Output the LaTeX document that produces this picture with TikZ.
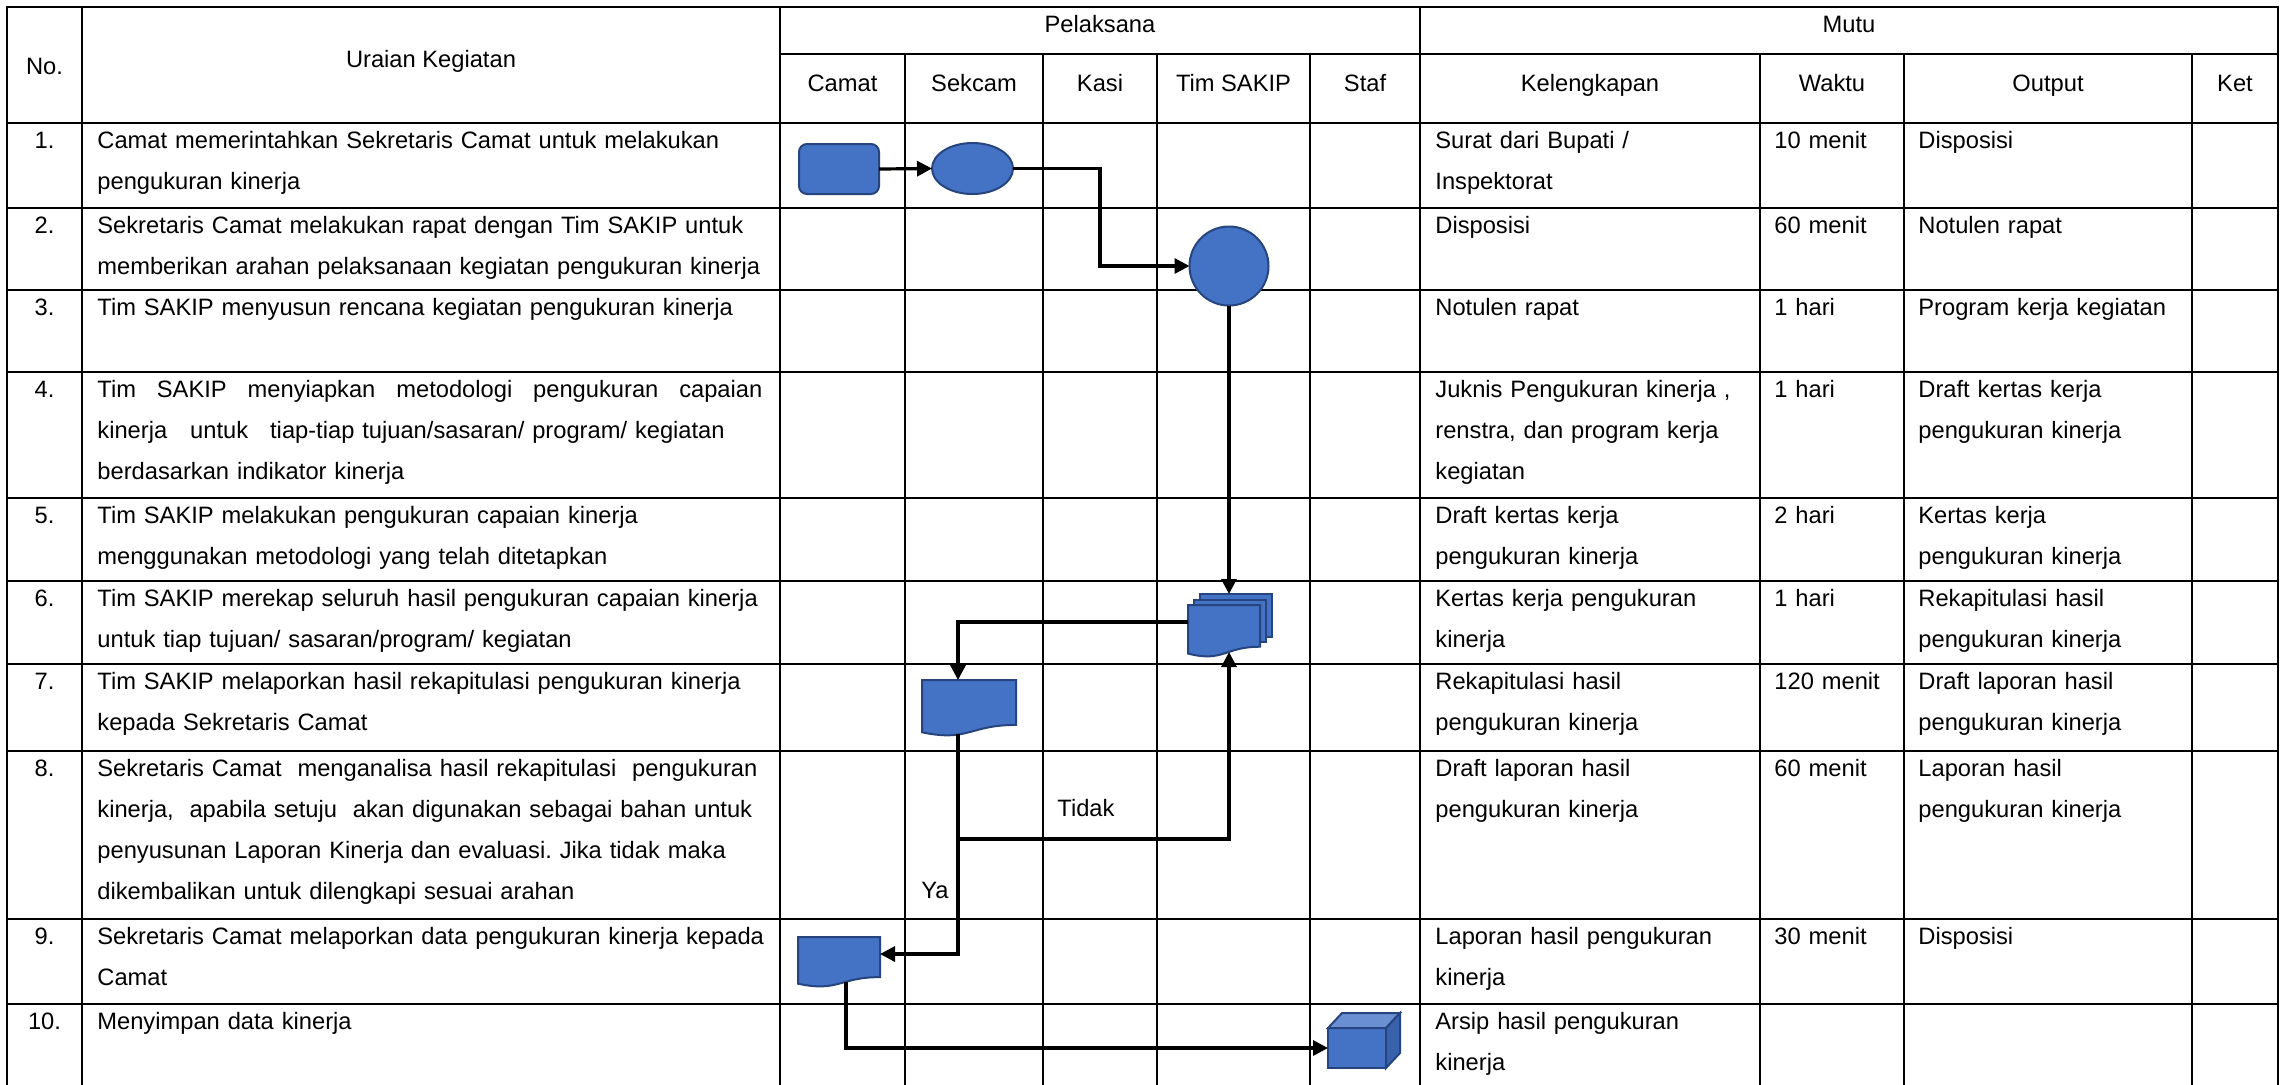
\documentclass[tikz,border=0pt]{standalone}
\usepackage{fontspec}
\setmainfont{Liberation Sans}
\usetikzlibrary{calc,arrows.meta,shapes.geometric}
\definecolor{shpfill}{HTML}{4472C4}
\definecolor{shpline}{HTML}{26457E}
\definecolor{cubetop}{HTML}{6A8FD3}
\definecolor{cubeside}{HTML}{3A62AC}
\frenchspacing
\newcommand\myfont{\fontsize{11.85pt}{20.5pt}\selectfont\frenchspacing}
\newcommand\docshape[1]{\draw[shp] (#1.north west) -- (#1.north east) -- ($(#1.north east)!0.802!(#1.south east)$) .. controls ($(#1.north)!0.802!(#1.south)$) and ($(#1.north)!1.1075!(#1.south)$) .. ($(#1.north west)!0.934!(#1.south west)$) -- cycle;}
\begin{document}
\begin{tikzpicture}[x=0.5pt,y=-0.5pt,
  gridline/.style={line width=0.9pt,line cap=rect},
  conn/.style={line width=1.6pt,-{Triangle[length=7.5pt,width=7.5pt]}},
  shp/.style={fill=shpfill,draw=shpline,line width=1pt},
  ghost/.style={inner sep=0pt,outer sep=0pt,draw=none},
  hd/.style={anchor=base,inner sep=0pt,font=\myfont},
  num/.style={anchor=base,inner sep=0pt,font=\myfont},
  cell/.style={anchor=base west,inner sep=0pt,align=left,text width=#1,font=\myfont},
  lbl/.style={anchor=base west,inner sep=0pt,font=\myfont}]
\useasboundingbox (0,0) rectangle (2295,1084);
\fill[white] (0,0) rectangle (2295,1084);
% grid
\foreach \x in {7,82,780,1420,2278} \draw[gridline] (\x,7) -- (\x,1084);
\foreach \x in {905,1043,1157,1310,1760,1904,2192} \draw[gridline] (\x,54) -- (\x,1084);
\draw[gridline] (7,7) -- (2278,7);
\draw[gridline] (780,54) -- (2278,54);
\foreach \y in {123,208,290,372,498,581,664,751,919,1004} \draw[gridline] (7,\y) -- (2278,\y);
% headers
\node[hd] (hno) at (44.5,74) {No.};
\node[hd] (hur) at (431,67) {Uraian Kegiatan};
\node[hd] (hpel) at (1100,32) {Pelaksana};
\node[hd] (hmutu) at (1849,32) {Mutu};
\node[hd] (hcam) at (842.5,91) {Camat};
\node[hd] (hsek) at (974,91) {Sekcam};
\node[hd] (hkas) at (1100,91) {Kasi};
\node[hd] (htim) at (1233.5,91) {Tim SAKIP};
\node[hd] (hsta) at (1365,91) {Staf};
\node[hd] (hkel) at (1590,91) {Kelengkapan};
\node[hd] (hwak) at (1832,91) {Waktu};
\node[hd] (hout) at (2048,91) {Output};
\node[hd] (hket) at (2235,91) {Ket};
% row 1
\node[num] (n1) at (44.5,148) {1.};
\node[cell=345pt] (u1) at (97,148) {Camat memerintahkan Sekretaris Camat untuk melakukan\\pengukuran kinerja};
\node[cell=165pt] (k1) at (1435,148) {Surat dari Bupati /\\Inspektorat};
\node[cell=70pt] (w1) at (1774,148) {10 menit};
\node[cell=140pt] (o1) at (1918,148) {Disposisi};
% row 2
\node[num] (n2) at (44.5,233) {2.};
\node[cell=345pt] (u2) at (97,233) {Sekretaris Camat melakukan rapat dengan Tim SAKIP untuk\\memberikan arahan pelaksanaan kegiatan pengukuran kinerja};
\node[cell=165pt] (k2) at (1435,233) {Disposisi};
\node[cell=70pt] (w2) at (1774,233) {60 menit};
\node[cell=140pt] (o2) at (1918,233) {Notulen rapat};
% row 3
\node[num] (n3) at (44.5,315) {3.};
\node[cell=345pt] (u3) at (97,315) {Tim SAKIP menyusun rencana kegiatan pengukuran kinerja};
\node[cell=165pt] (k3) at (1435,315) {Notulen rapat};
\node[cell=70pt] (w3) at (1774,315) {1 hari};
\node[cell=140pt] (o3) at (1918,315) {Program kerja kegiatan};
% row 4
\node[num] (n4) at (44.5,397) {4.};
\node[cell=345pt] (u4) at (97,397) {\makebox[332.5pt][l]{Tim\hfill SAKIP\hfill menyiapkan\hfill metodologi\hfill pengukuran\hfill capaian}\\kinerja\hspace{11.5pt}untuk\hspace{11pt}tiap-tiap tujuan/sasaran/ program/ kegiatan\\berdasarkan indikator kinerja};
\node[cell=165pt] (k4) at (1435,397) {Juknis Pengukuran kinerja ,\\renstra, dan program kerja\\kegiatan};
\node[cell=70pt] (w4) at (1774,397) {1 hari};
\node[cell=140pt] (o4) at (1918,397) {Draft kertas kerja\\pengukuran kinerja};
% row 5
\node[num] (n5) at (44.5,523) {5.};
\node[cell=345pt] (u5) at (97,523) {Tim SAKIP melakukan pengukuran capaian kinerja\\menggunakan metodologi yang telah ditetapkan};
\node[cell=165pt] (k5) at (1435,523) {Draft kertas kerja\\pengukuran kinerja};
\node[cell=70pt] (w5) at (1774,523) {2 hari};
\node[cell=140pt] (o5) at (1918,523) {Kertas kerja\\pengukuran kinerja};
% row 6
\node[num] (n6) at (44.5,606) {6.};
\node[cell=345pt] (u6) at (97,606) {Tim SAKIP merekap seluruh hasil pengukuran capaian kinerja\\untuk tiap tujuan/ sasaran/program/ kegiatan};
\node[cell=165pt] (k6) at (1435,606) {Kertas kerja pengukuran\\kinerja};
\node[cell=70pt] (w6) at (1774,606) {1 hari};
\node[cell=140pt] (o6) at (1918,606) {Rekapitulasi hasil\\pengukuran kinerja};
% row 7
\node[num] (n7) at (44.5,689) {7.};
\node[cell=345pt] (u7) at (97,689) {Tim SAKIP melaporkan hasil rekapitulasi pengukuran kinerja\\kepada Sekretaris Camat};
\node[cell=165pt] (k7) at (1435,689) {Rekapitulasi hasil\\pengukuran kinerja};
\node[cell=70pt] (w7) at (1774,689) {120 menit};
\node[cell=140pt] (o7) at (1918,689) {Draft laporan hasil\\pengukuran kinerja};
% row 8
\node[num] (n8) at (44.5,776) {8.};
\node[cell=345pt] (u8) at (97,776) {Sekretaris Camat\ \ menganalisa hasil rekapitulasi\ \ pengukuran\\kinerja,\ \ apabila setuju\ \ akan digunakan sebagai bahan untuk\\penyusunan Laporan Kinerja dan evaluasi. Jika tidak maka\\dikembalikan untuk dilengkapi sesuai arahan};
\node[cell=165pt] (k8) at (1435,776) {Draft laporan hasil\\pengukuran kinerja};
\node[cell=70pt] (w8) at (1774,776) {60 menit};
\node[cell=140pt] (o8) at (1918,776) {Laporan hasil\\pengukuran kinerja};
% row 9
\node[num] (n9) at (44.5,944) {9.};
\node[cell=345pt] (u9) at (97,944) {Sekretaris Camat melaporkan data pengukuran kinerja kepada\\Camat};
\node[cell=165pt] (k9) at (1435,944) {Laporan hasil pengukuran\\kinerja};
\node[cell=70pt] (w9) at (1774,944) {30 menit};
\node[cell=140pt] (o9) at (1918,944) {Disposisi};
% row 10
\node[num] (n10) at (44.5,1029) {10.};
\node[cell=345pt] (u10) at (97,1029) {Menyimpan data kinerja};
\node[cell=165pt] (k10) at (1435,1029) {Arsip hasil pengukuran\\kinerja};
% shapes
\node[shp,rounded corners=4pt,minimum width=40pt,minimum height=25pt,inner sep=0pt,outer sep=0pt] (s1) at (839,169) {};
\node[shp,ellipse,minimum width=40.5pt,minimum height=25.5pt,inner sep=0pt,outer sep=0pt] (e1) at (972.5,168.5) {};
\node[shp,circle,minimum size=39.5pt,inner sep=0pt,outer sep=0pt] (c1) at (1229,266) {};
\node[ghost,minimum width=36pt,minimum height=21.5pt] (mdb) at (1236,615.5) {};
\node[ghost,minimum width=36pt,minimum height=21pt] (mdm) at (1230,621) {};
\node[ghost,minimum width=36pt,minimum height=26pt] (mdf) at (1224,631) {};
\node[ghost,minimum width=47pt,minimum height=28pt] (d7) at (969,708) {};
\node[ghost,minimum width=41pt,minimum height=25pt] (d9) at (839,962) {};
\draw[shp] (mdb.north west) rectangle (mdb.south east);
\draw[shp] (mdm.north west) rectangle (mdm.south east);
\docshape{mdf}
\docshape{d7}
\docshape{d9}
\node[shp,inner sep=0pt,outer sep=0pt,minimum width=29pt,minimum height=20pt] (cf) at (1357,1048) {};
\draw[shp,fill=cubetop] (cf.north west) -- ++(14,-15) -- ++(58,0) -- (cf.north east) -- cycle;
\draw[shp,fill=cubeside] (cf.north east) -- ++(14,-15) -- ++(0,40) -- (cf.south east) -- cycle;
% connectors
\draw[conn] (s1.east) -- (e1.west);
\draw[conn] (e1.east) -- ++(87,0) |- (c1.west);
\draw[conn] (c1.south) -- (c1.south |- mdb.north);
\draw[conn] ($(mdf.north west)+(0,17)$) -| ($(d7.north west)+(36,0)$);
\draw[conn] ($(d7.north west)+(36,54)$) |- ($(d9.north east)+(0,17)$);
\coordinate (split) at ($(d7.north west)+(36,159)$);
\draw[conn] (split) -| ($(mdf.north west)+(41,47)$);
\draw[conn] ($(d9.north west)+(48,45)$) |- (cf.west);
% labels
\node[lbl] (tidak) at (1057,816) {Tidak};
\node[lbl] (ya) at (921,898) {Ya};
\end{tikzpicture}
\end{document}
